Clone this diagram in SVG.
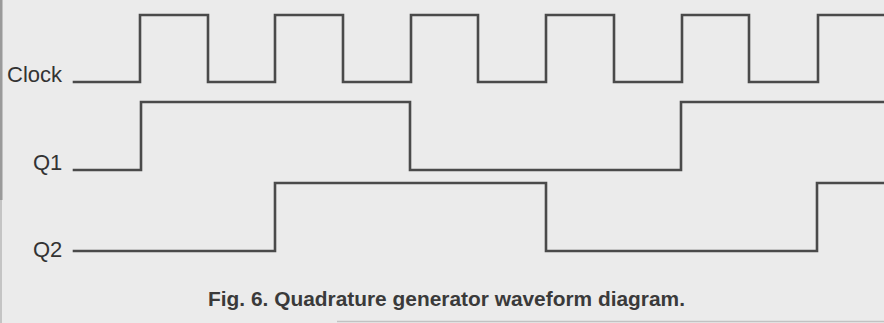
<svg xmlns="http://www.w3.org/2000/svg" width="884" height="323" viewBox="0 0 884 323">
<style>
.wave{fill:none;stroke:#4a4a4a;stroke-width:2.6;stroke-linejoin:miter;stroke-linecap:square}
.lbl{font-family:"Liberation Sans",Arial,sans-serif;font-size:22px;fill:#333}
.cap{font-family:"Liberation Sans",Arial,sans-serif;font-size:21px;font-weight:bold;fill:#3a3a3a}
</style>
<rect x="0" y="0" width="884" height="323" fill="#ebebeb"/>
<rect x="0" y="0" width="2.5" height="200" fill="#9a9a9a"/>
<rect x="0" y="200" width="2" height="123" fill="#c4c4c4"/>
<line x1="337" y1="321.5" x2="884" y2="321.5" stroke="#c2c2c2" stroke-width="1.5"/>
<g id="clock">
<text class="lbl" x="7" y="82">Clock</text>
<path class="wave" d="M74,82 H140 V15 H208 V82 H275 V15 H343 V82 H411 V15 H478 V82 H546 V15 H614 V82 H682 V15 H749 V82 H818 V15 H886"/>
</g>
<g id="q1">
<text class="lbl" x="33" y="170">Q1</text>
<path class="wave" d="M74,170 H141 V102 H410 V170 H681 V102 H886"/>
</g>
<g id="q2">
<text class="lbl" x="33" y="257">Q2</text>
<path class="wave" d="M74,251 H275 V183 H546 V251 H817 V183 H886"/>
</g>
<g id="caption">
<text class="cap" x="208" y="306" textLength="477" lengthAdjust="spacingAndGlyphs">Fig. 6. Quadrature generator waveform diagram.</text>
</g>
</svg>
